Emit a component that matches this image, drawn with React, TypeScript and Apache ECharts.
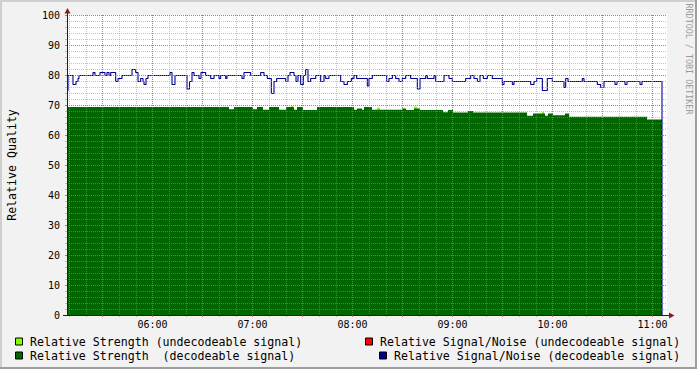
import React, { useEffect, useRef } from 'react';
import * as echarts from 'echarts';

// ---- time range (minutes since midnight) ----
const X_MIN = 308.7; // 05:08:42
const X_MAX = 668.7; // 11:08:42

// ---- tick values (minutes since midnight) ----
const tenMinuteTicks = [
  310, 320, 330, 340, 350, 360, 370, 380, 390, 400, 410, 420,
  430, 440, 450, 460, 470, 480, 490, 500, 510, 520, 530, 540,
  550, 560, 570, 580, 590, 600, 610, 620, 630, 640, 650, 660,
];
const halfHourTicks = [330, 360, 390, 420, 450, 480, 510, 540, 570, 600, 630, 660];
const hourTicks = [360, 420, 480, 540, 600, 660];

// ---- Relative Signal/Noise (decodeable signal): step starts ----
const snrTimes = [
  308.7, 309.3, 312.3, 314.1, 315.3, 315.9, 324.3, 325.5, 328.5, 331.5,
  332.7, 333.9, 334.9, 337.9, 339.3, 341.7, 347.7, 349.9, 351.3, 352.9,
  354.3, 354.9, 356.1, 357.3, 370.5, 371.7, 373.5, 380.7, 382.2, 383.7,
  384.9, 387.9, 389.1, 391.9, 394.9, 396.9, 399.9, 400.9, 403.9, 404.7,
  413.7, 414.9, 418.9, 424.9, 426.9, 428.9, 431.3, 432.9, 434.5, 439.9,
  441.3, 442.5, 444.9, 446.1, 447.3, 448.9, 450.5, 451.9, 453.3, 454.9,
  457.9, 460.9, 462.9, 463.9, 465.9, 472.9, 474.9, 476.9, 479.3, 480.9,
  482.5, 488.9, 489.9, 491.9, 500.5, 501.9, 503.9, 505.9, 507.9, 509.9,
  511.9, 514.9, 518.9, 520.5, 523.9, 524.9, 528.9, 529.9, 534.9, 537.9,
  539.9, 547.9, 550.9, 552.9, 554.9, 556.5, 558.5, 560.9, 563.9, 569.9,
  570.9, 575.9, 576.9, 586.9, 588.9, 590.5, 593.9, 596.9, 599.9, 606.9,
  607.9, 609.3, 617.9, 618.9, 626.9, 628.9, 630.9, 637.5, 638.7, 643.5,
  644.7, 652.5, 653.7, 665.7,
];
const snrValues = [
  75, 80, 77, 78, 79, 80, 81, 80, 81, 80,
  81, 80, 81, 78, 79, 80, 82, 81, 78, 79,
  78, 77, 79, 80, 81, 77, 80, 75.5, 78, 81,
  80, 79, 81, 80, 79, 80, 79, 80, 79, 80,
  79, 81, 80, 81, 80, 79, 74, 78, 79, 78,
  80, 81, 80, 78, 80, 77, 80, 82, 78, 79,
  80, 78, 80, 79, 80, 78, 77, 78, 79, 80,
  79, 76.5, 79, 80, 78, 79, 80, 79, 78, 79,
  80, 79, 75.5, 79, 80, 79, 80, 78, 80, 79,
  78, 79, 80, 79, 78, 80, 79, 80, 79, 77,
  78, 77, 78, 77, 78, 79, 75, 79, 78, 76,
  79, 78, 79, 78, 77, 76, 78, 77, 78, 77,
  78, 77, 78, 0,
];

// ---- Relative Strength (decodeable signal): step starts ----
const strengthTimes = [
  308.7, 405.9, 408.9, 420.3, 422.7, 426.3, 429.9, 435.9, 440.1, 444.9,
  446.7, 450.3, 458.7, 480.9, 482.7, 485.7, 486.9, 491.7, 509.7, 512.1,
  516.9, 520.5, 534.3, 537.3, 540.3, 549.3, 552.3, 584.7, 588.3, 595.5,
  597.3, 600.3, 607.5, 609.9, 656.7, 665.7,
];
const strengthValues = [
  69.3, 68.6, 69.3, 68.6, 69.3, 68.4, 69.3, 68.4, 69.3, 68.4,
  69.3, 68.3, 69.3, 68.4, 68.8, 68.4, 69.3, 68.4, 68.8, 68.3,
  68.8, 68.3, 67.6, 68.3, 67.5, 68.0, 67.5, 66.4, 67.2, 66.4,
  67.2, 66.6, 67.2, 66.1, 65.2, 65.2,
];

// ---- Relative Strength (undecodeable signal): short bursts ----
const weakTimes = [443.1, 444.3, 444.3, 494.7, 496.5, 496.5, 516.9, 518.7, 518.7, 593.7, 594.9, 594.9];
const weakValues = [69.7, 69.7, null, 69.1, 69.1, null, 69.5, 69.5, null, 67.7, 67.7, null];

// ---- Relative Signal/Noise (undecodeable signal): no samples ----
const badSnrTimes: number[] = [];
const badSnrValues: number[] = [];

const NAME_WEAK = 'Relative Strength (undecodeable signal)';
const NAME_STRONG = 'Relative Strength  (decodeable signal)';
const NAME_BADSNR = 'Relative Signal/Noise (undecodeable signal)';
const NAME_SNR = 'Relative Signal/Noise (decodeable signal)';

const COL_WEAK = '#80FF00';
const COL_STRONG = '#006600';
const COL_BADSNR = '#FF0000';
const COL_SNR = '#000090';

const FONT = 'DejaVu Sans Mono';
const GRID_MINOR = 'rgba(143,143,143,0.55)';
const GRID_MAJOR = 'rgba(222,79,79,0.75)';
const AXIS_COL = '#1F1F1F';
const ARROW_COL = '#801F1F';

// half-pixel shift so the 1px line lands on whole pixel rows (as rrdtool draws it)
const LINE_AXIS_SHIFT = 1 / 6;

const pad = (n: number) => (n < 10 ? '0' + n : '' + n);
const fmtTime = (v: number) => {
  const m = Math.round(v);
  return pad(Math.floor(m / 60)) + ':' + pad(m % 60);
};

const pairs = (ts: number[], vs: (number | null)[]) => ts.map((t, i) => [t, vs[i]]);

export default function App() {
  const ref = useRef<HTMLDivElement>(null);
  useEffect(() => {
    if (!ref.current) return;
    const chart = echarts.init(ref.current, null, { renderer: 'svg' });
    const legendItem = (sx: number, sy: number, color: string, text: string) => [
      {
        type: 'rect',
        shape: { x: sx + 0.5, y: sy + 0.5, width: 7, height: 7 },
        style: { fill: color, stroke: '#000', lineWidth: 1 },
      },
      {
        type: 'text',
        x: sx + 15,
        y: sy + 4,
        style: {
          text,
          fill: '#000',
          fontSize: 11.6,
          fontFamily: FONT,
          align: 'left',
          verticalAlign: 'middle',
        },
      },
    ];
    const option: any = {
      animation: false,
      backgroundColor: '#F2F2F2',
      textStyle: { fontFamily: FONT },
      grid: {
        left: 67,
        top: 15,
        width: 600,
        height: 300,
        show: true,
        backgroundColor: '#FFFFFF',
        borderWidth: 0,
        containLabel: false,
        outerBoundsMode: 'none',
      },
      xAxis: [
        {
          type: 'value',
          position: 'bottom',
          min: X_MIN,
          max: X_MAX,
          z: 3,
          axisLine: { show: false },
          axisTick: {
            show: true,
            customValues: tenMinuteTicks,
            length: 2,
            lineStyle: { color: GRID_MINOR },
          },
          axisLabel: { show: false },
          splitLine: { show: true, lineStyle: { color: GRID_MINOR, type: [1, 1], width: 1 } },
        },
        {
          type: 'value',
          position: 'bottom',
          min: X_MIN,
          max: X_MAX,
          z: 4,
          axisLine: { show: true, onZero: false, lineStyle: { color: AXIS_COL, width: 1 } },
          axisTick: {
            show: true,
            customValues: halfHourTicks,
            length: 2,
            lineStyle: { color: GRID_MAJOR },
          },
          axisLabel: {
            show: true,
            customValues: hourTicks,
            formatter: (v: number) => fmtTime(v),
            fontSize: 10,
            fontFamily: FONT,
            color: '#000',
            margin: 4,
          },
          splitLine: { show: true, lineStyle: { color: GRID_MAJOR, type: [1, 1], width: 1 } },
        },
      ],
      yAxis: [
        {
          type: 'value',
          position: 'left',
          min: 0,
          max: 100,
          interval: 2,
          z: 3,
          axisLine: { show: false },
          axisTick: { show: true, length: 2, lineStyle: { color: GRID_MINOR } },
          axisLabel: { show: false },
          splitLine: { show: true, lineStyle: { color: GRID_MINOR, type: [1, 1], width: 1 } },
        },
        {
          type: 'value',
          position: 'left',
          min: 0,
          max: 100,
          interval: 10,
          z: 4,
          axisLine: { show: true, onZero: false, lineStyle: { color: AXIS_COL, width: 1 } },
          axisTick: { show: true, length: 2, lineStyle: { color: GRID_MAJOR } },
          axisLabel: { show: true, fontSize: 10, fontFamily: FONT, color: '#000', margin: 7 },
          splitLine: { show: true, lineStyle: { color: GRID_MAJOR, type: [1, 1], width: 1 } },
        },
        {
          type: 'value',
          show: false,
          position: 'left',
          min: LINE_AXIS_SHIFT,
          max: 100 + LINE_AXIS_SHIFT,
          splitLine: { show: false },
          axisLine: { show: false },
          axisTick: { show: false },
          axisLabel: { show: false },
        },
      ],
      series: [
        {
          name: NAME_WEAK,
          type: 'line',
          xAxisIndex: 0,
          yAxisIndex: 0,
          step: 'end',
          symbol: 'none',
          showSymbol: false,
          connectNulls: false,
          data: pairs(weakTimes, weakValues),
          lineStyle: { width: 0, opacity: 0 },
          areaStyle: { color: COL_WEAK, opacity: 1 },
          itemStyle: { color: COL_WEAK },
          z: 2,
        },
        {
          name: NAME_STRONG,
          type: 'line',
          xAxisIndex: 0,
          yAxisIndex: 0,
          step: 'end',
          symbol: 'none',
          showSymbol: false,
          data: pairs(strengthTimes, strengthValues),
          lineStyle: { width: 0, opacity: 0 },
          areaStyle: { color: COL_STRONG, opacity: 1 },
          itemStyle: { color: COL_STRONG },
          z: 2,
        },
        {
          name: NAME_BADSNR,
          type: 'line',
          xAxisIndex: 0,
          yAxisIndex: 2,
          step: 'end',
          symbol: 'none',
          showSymbol: false,
          data: pairs(badSnrTimes, badSnrValues),
          lineStyle: { width: 1, color: COL_BADSNR },
          itemStyle: { color: COL_BADSNR },
          z: 2,
        },
        {
          name: NAME_SNR,
          type: 'line',
          xAxisIndex: 0,
          yAxisIndex: 2,
          step: 'end',
          symbol: 'none',
          showSymbol: false,
          data: pairs(snrTimes, snrValues),
          lineStyle: { width: 1.1, color: COL_SNR },
          itemStyle: { color: COL_SNR },
          z: 2,
        },
      ],
      graphic: [
        // frame shading
        { type: 'rect', shape: { x: 0, y: 0, width: 697, height: 2 }, style: { fill: '#CFCFCF' }, silent: true },
        { type: 'rect', shape: { x: 0, y: 0, width: 2, height: 369 }, style: { fill: '#CFCFCF' }, silent: true },
        { type: 'rect', shape: { x: 0, y: 367, width: 697, height: 2 }, style: { fill: '#9E9E9E' }, silent: true },
        { type: 'rect', shape: { x: 695, y: 0, width: 2, height: 369 }, style: { fill: '#9E9E9E' }, silent: true },
        // axis extensions and arrows
        { type: 'line', shape: { x1: 67.5, y1: 15, x2: 67.5, y2: 10 }, style: { stroke: AXIS_COL, lineWidth: 1 }, z: 10 },
        { type: 'line', shape: { x1: 63, y1: 315.5, x2: 67, y2: 315.5 }, style: { stroke: AXIS_COL, lineWidth: 1 }, z: 10 },
        { type: 'line', shape: { x1: 667, y1: 315.5, x2: 670, y2: 315.5 }, style: { stroke: AXIS_COL, lineWidth: 1 }, z: 10 },
        { type: 'polygon', shape: { points: [[64.5, 13.5], [70.5, 13.5], [67.5, 8]] }, style: { fill: ARROW_COL }, z: 10 },
        { type: 'polygon', shape: { points: [[669, 312.5], [669, 318.5], [674.5, 315.5]] }, style: { fill: ARROW_COL }, z: 10 },
        // y-axis title
        {
          type: 'text',
          x: 11.5,
          y: 165,
          rotation: Math.PI / 2,
          style: {
            text: 'Relative Quality',
            fill: '#000',
            fontSize: 11.6,
            fontFamily: FONT,
            align: 'center',
            verticalAlign: 'middle',
          },
        },
        // watermark
        {
          type: 'text',
          x: 688.5,
          y: 59,
          rotation: -Math.PI / 2,
          style: {
            text: 'RRDTOOL / TOBI OETIKER',
            fill: '#999999',
            fontSize: 8.4,
            fontFamily: FONT,
            align: 'center',
            verticalAlign: 'middle',
          },
        },
        // legend
        ...legendItem(15, 337.5, COL_WEAK, NAME_WEAK),
        ...legendItem(15, 351.5, COL_STRONG, NAME_STRONG),
        ...legendItem(365, 337.5, COL_BADSNR, NAME_BADSNR),
        ...legendItem(379, 351.5, COL_SNR, NAME_SNR),
      ],
    };
    chart.setOption(option);
    return () => chart.dispose();
  }, []);
  return <div ref={ref} style={{ position: 'absolute', left: 0, top: 0, width: 697, height: 369 }} />;
}
